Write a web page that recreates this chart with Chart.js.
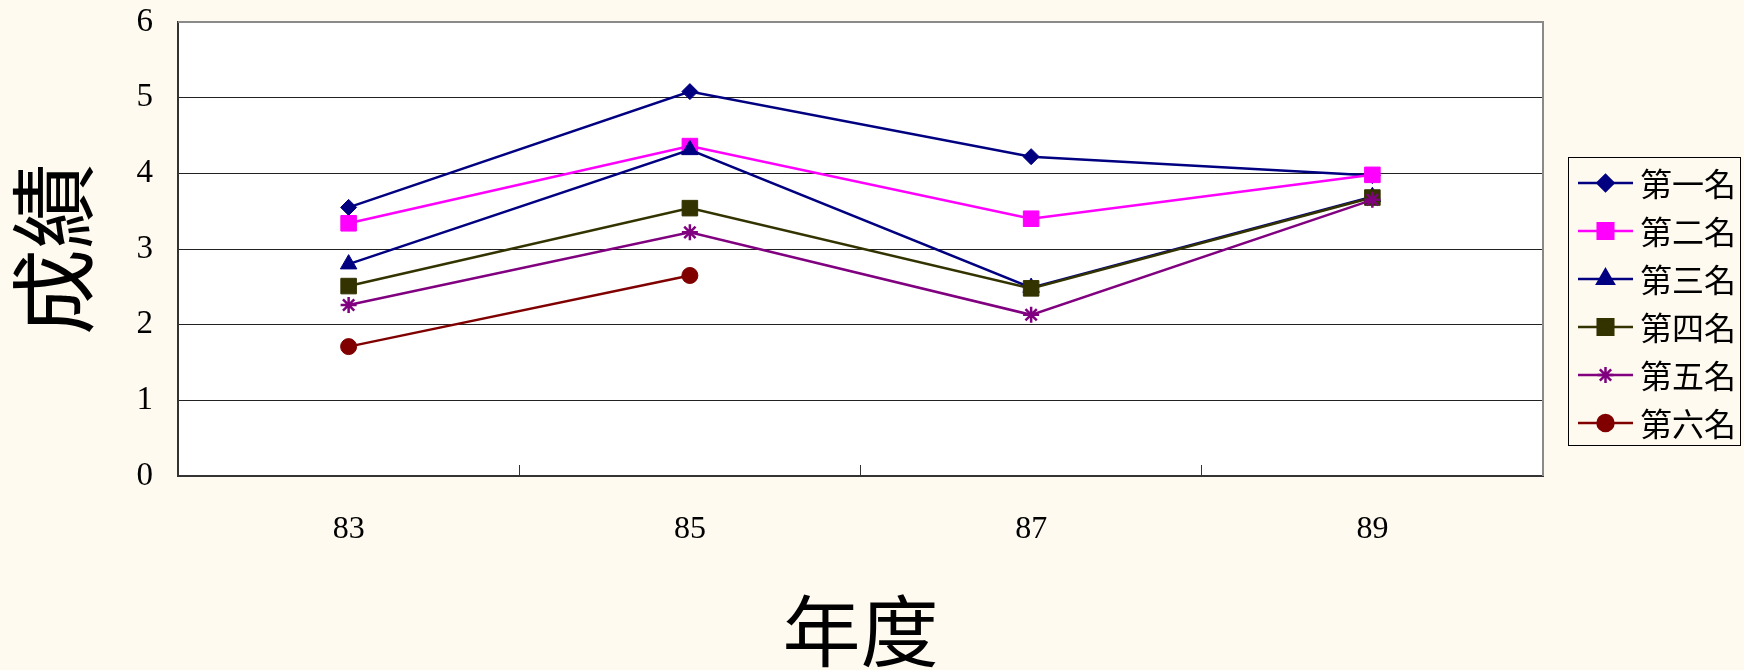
<!DOCTYPE html>
<html>
<head>
<meta charset="utf-8">
<script src="https://cdn.jsdelivr.net/npm/chart.js@4.4.1/dist/chart.umd.min.js"></script>
<style>
html, body { margin: 0; padding: 0; background: #FFFAF0; }
#wrap { width: 1744px; height: 670px; }
</style>
</head>
<body>
<div id="wrap"><canvas id="chart" width="1744" height="670"></canvas></div>
<script>
const years = ['83', '85', '87', '89'];
const seriesNames = ['第一名', '第二名', '第三名', '第四名', '第五名', '第六名'];
const rank1 = [3.55, 5.08, 4.22, 3.97];
const rank2 = [3.34, 4.36, 3.40, 3.98];
const rank3 = [2.80, 4.31, 2.49, 3.69];
const rank4 = [2.51, 3.54, 2.48, 3.68];
const rank5 = [2.26, 3.22, 2.13, 3.65];
const rank6 = [1.71, 2.65, null, null];
const seriesColors = ['#000080', '#FF00FF', '#000080', '#333300', '#800080', '#800000'];
const markers = ['rectRot', 'rect', 'triangle', 'rect', 'star', 'circle'];
const markerSizes = [8, 11, 9.5, 11, 8, 8];

const serif = "'Liberation Serif', 'DejaVu Serif', serif";
const cjk = "'Noto Sans CJK TC', 'Noto Sans CJK SC', sans-serif";

const allSeries = [rank1, rank2, rank3, rank4, rank5, rank6];
const datasets = allSeries.map((vals, i) => ({
  label: seriesNames[i],
  data: vals,
  borderColor: seriesColors[i],
  backgroundColor: seriesColors[i],
  borderWidth: 2.5,
  pointStyle: markers[i],
  pointRadius: markerSizes[i],
  pointBorderWidth: markers[i] === 'star' ? 2.5 : 1,
  pointBackgroundColor: seriesColors[i],
  pointBorderColor: seriesColors[i],
  tension: 0,
  spanGaps: false,
  order: allSeries.length - i // later series sit on top, like the original
}));

// white plot area + grey frame on top/right
const plotFrame = {
  id: 'plotFrame',
  beforeDraw(chart) {
    const {ctx, chartArea: a} = chart;
    ctx.save();
    ctx.fillStyle = '#FFFFFF';
    ctx.fillRect(a.left, a.top, a.right - a.left, a.bottom - a.top);
    ctx.restore();
  },
  afterDraw(chart) {
    const {ctx, chartArea: a} = chart;
    ctx.save();
    ctx.strokeStyle = '#8a8a8a';
    ctx.lineWidth = 2;
    ctx.beginPath();
    ctx.moveTo(a.left, a.top);
    ctx.lineTo(a.right, a.top);
    ctx.lineTo(a.right, a.bottom);
    ctx.stroke();
    ctx.restore();
  }
};

// legend box on the right: line sample with marker, then name
const sideLegend = {
  id: 'sideLegend',
  afterDraw(chart) {
    const ctx = chart.ctx;
    const boxX = 1568.5, boxY = 157.5, boxW = 172, boxH = 288;
    ctx.save();
    ctx.fillStyle = '#FFFAF0';
    ctx.fillRect(boxX, boxY, boxW, boxH);
    ctx.strokeStyle = '#000';
    ctx.lineWidth = 1;
    ctx.strokeRect(boxX, boxY, boxW, boxH);
    chart.data.datasets.forEach((ds, i) => {
      const y = 183 + i * 48;
      ctx.strokeStyle = ds.borderColor;
      ctx.fillStyle = ds.borderColor;
      ctx.lineWidth = 2.5;
      ctx.beginPath();
      ctx.moveTo(1578, y);
      ctx.lineTo(1633, y);
      ctx.stroke();
      Chart.helpers.drawPoint(ctx, {
        pointStyle: ds.pointStyle,
        radius: ds.pointRadius,
        rotation: 0,
        borderWidth: ds.pointBorderWidth
      }, 1605.5, y);
      ctx.fillStyle = '#000';
      ctx.font = '32px ' + cjk;
      ctx.textBaseline = 'middle';
      ctx.textAlign = 'left';
      ctx.fillText(ds.label, 1640, y + 1);
    });
    ctx.restore();
  }
};

new Chart(document.getElementById('chart'), {
  type: 'line',
  data: { labels: years, datasets: datasets },
  plugins: [plotFrame, sideLegend],
  options: {
    responsive: false,
    animation: false,
    layout: { padding: { left: 0, top: 0, right: 201, bottom: 0 } },
    plugins: {
      legend: { display: false },
      tooltip: { enabled: false }
    },
    scales: {
      x: {
        type: 'category',
        offset: true,
        afterFit: s => { s.height = 194; },
        grid: {
          display: true,
          offset: true,
          drawOnChartArea: false,
          drawTicks: true,
          tickLength: -11,
          color: '#333',
          lineWidth: 1
        },
        border: { display: true, color: '#333', width: 2 },
        ticks: {
          color: '#000',
          font: { family: serif, size: 32 },
          padding: 45,
          maxRotation: 0
        },
        title: {
          display: true,
          text: '年度',
          color: '#000',
          font: { family: cjk, size: 78, lineHeight: 1 },
          padding: { top: 4, bottom: 0 }
        }
      },
      y: {
        min: 0,
        max: 6,
        afterFit: s => {
          s.width = 178;
          s.paddingTop = 22; // keep plot top where the original has it
          s.paddingBottom = 20;
        },
        grid: { color: '#222', lineWidth: 1, drawTicks: false },
        border: { display: true, color: '#333', width: 2 },
        ticks: {
          stepSize: 1,
          color: '#000',
          font: { family: serif, size: 33 },
          padding: 25
        },
        title: {
          display: true,
          text: '成績',
          color: '#000',
          font: { family: cjk, size: 86, lineHeight: 1 },
          padding: { top: 10, bottom: 0 }
        }
      }
    }
  }
});
</script>
</body>
</html>
